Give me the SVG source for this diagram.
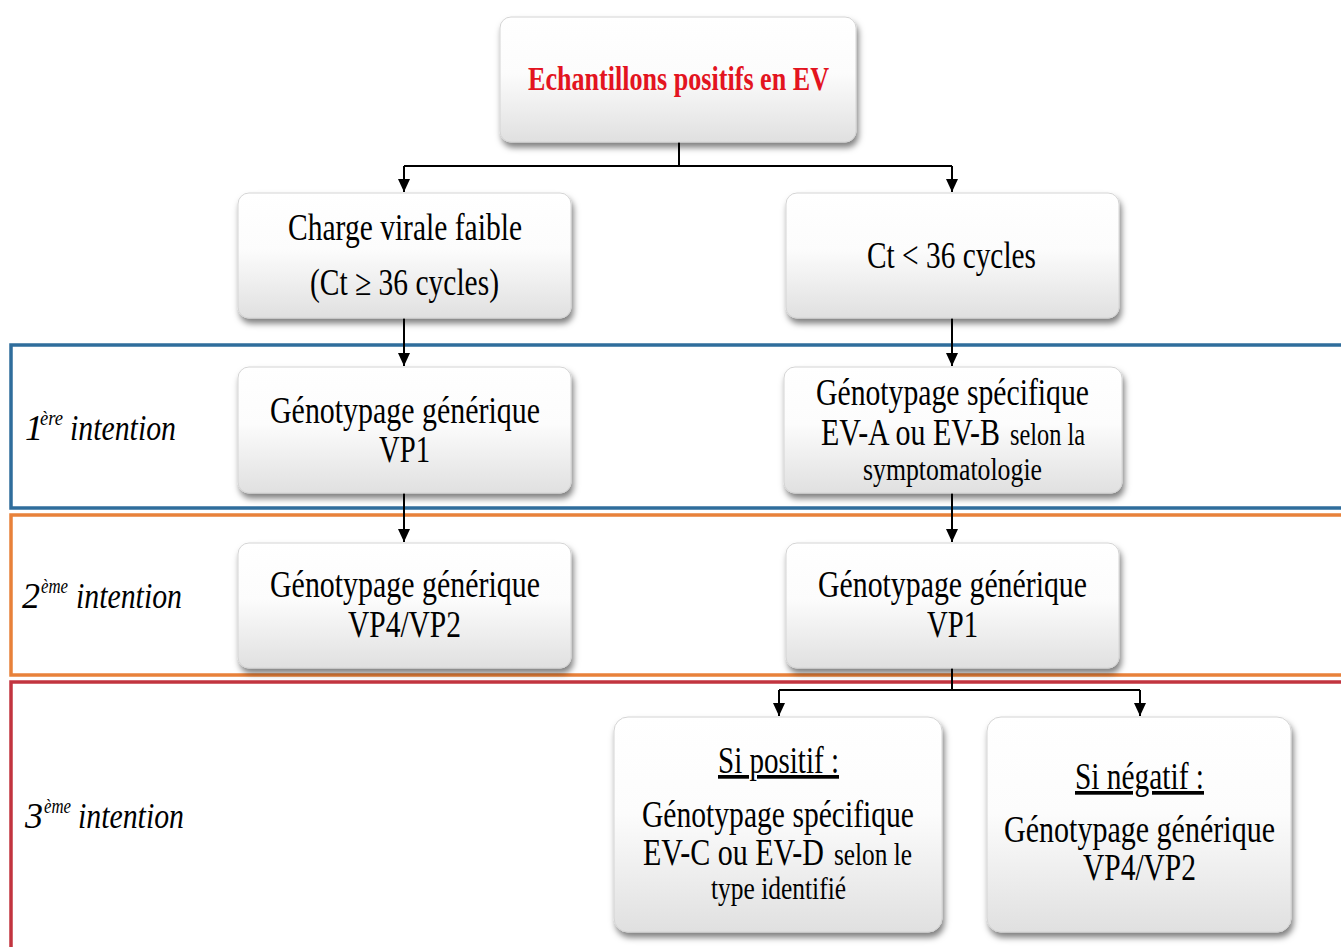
<svg xmlns="http://www.w3.org/2000/svg" width="1341" height="947" viewBox="0 0 1341 947">
<defs>
<linearGradient id="g" x1="0" y1="0" x2="0" y2="1">
<stop offset="0" stop-color="#ffffff"/>
<stop offset="0.45" stop-color="#fcfcfc"/>
<stop offset="1" stop-color="#e0e0e0"/>
</linearGradient>
<filter id="sh" x="-10%" y="-10%" width="125%" height="130%">
<feDropShadow dx="2" dy="5" stdDeviation="3" flood-color="#000" flood-opacity="0.5"/>
</filter>
<marker id="ar" markerWidth="13" markerHeight="12" refX="13" refY="6" orient="auto" markerUnits="userSpaceOnUse" viewBox="0 0 13 12">
<path d="M0,0 L13,6 L0,12 Z" fill="#000"/>
</marker>
</defs>
<style>
.box{fill:url(#g);stroke:#d4d4d4;stroke-width:1;filter:url(#sh)}
.t{font-family:"Liberation Serif","Times New Roman",serif;font-size:37px;fill:#000}
.s{font-family:"Liberation Serif","Times New Roman",serif;font-size:31px;fill:#000}
.lab{font-family:"Liberation Serif","Times New Roman",serif;font-size:36px;font-style:italic;fill:#000}
.sup{font-family:"Liberation Serif","Times New Roman",serif;font-size:20px;font-style:italic;fill:#000}
.c{fill:none;stroke:#000;stroke-width:2}
.band{fill:none;stroke-width:3.5}
</style>
<rect width="1341" height="947" fill="#ffffff"/>
<g id="bands">
<rect class="band" x="11" y="345" width="1345" height="163" stroke="#2f6d9c"/>
<rect class="band" x="11" y="515" width="1345" height="160" stroke="#e8813a"/>
<rect class="band" x="11" y="682" width="1345" height="300" stroke="#c2343f"/>
</g>
<g id="labels">
<text class="lab" x="25" y="440">1</text>
<text class="sup" x="40" y="425" textLength="23" lengthAdjust="spacingAndGlyphs">ère</text>
<text class="lab" x="70" y="440" textLength="106" lengthAdjust="spacingAndGlyphs">intention</text>
<text class="lab" x="22" y="608">2</text>
<text class="sup" x="41" y="593" textLength="27" lengthAdjust="spacingAndGlyphs">ème</text>
<text class="lab" x="76" y="608" textLength="106" lengthAdjust="spacingAndGlyphs">intention</text>
<text class="lab" x="25" y="828">3</text>
<text class="sup" x="44" y="813" textLength="27" lengthAdjust="spacingAndGlyphs">ème</text>
<text class="lab" x="78" y="828" textLength="106" lengthAdjust="spacingAndGlyphs">intention</text>
</g>
<g id="connectors">
<path class="c" d="M679,142 V166 M404,166 H952"/>
<path class="c" d="M404,166 V192" marker-end="url(#ar)"/>
<path class="c" d="M952,166 V192" marker-end="url(#ar)"/>
<path class="c" d="M404,318 V366" marker-end="url(#ar)"/>
<path class="c" d="M952,318 V366" marker-end="url(#ar)"/>
<path class="c" d="M404,493 V542" marker-end="url(#ar)"/>
<path class="c" d="M952,493 V542" marker-end="url(#ar)"/>
<path class="c" d="M952,668 V690 M779,690 H1140"/>
<path class="c" d="M779,690 V716" marker-end="url(#ar)"/>
<path class="c" d="M1140,690 V716" marker-end="url(#ar)"/>
</g>
<g id="n_top">
<rect class="box" x="500" y="17" width="356" height="125" rx="11"/>
<text x="528" y="90" textLength="301" lengthAdjust="spacingAndGlyphs" font-family="Liberation Serif, Times New Roman, serif" font-size="33" font-weight="bold" fill="#e3141f">Echantillons positifs en EV</text>
</g>
<g id="n_charge">
<rect class="box" x="238" y="193" width="333" height="125" rx="11"/>
<text class="t" x="288" y="240" textLength="234" lengthAdjust="spacingAndGlyphs">Charge virale faible</text>
<text class="t" x="310" y="295" textLength="189" lengthAdjust="spacingAndGlyphs">(Ct ≥ 36 cycles)</text>
</g>
<g id="n_ct">
<rect class="box" x="786" y="193" width="333" height="125" rx="11"/>
<text class="t" x="867" y="268" textLength="169" lengthAdjust="spacingAndGlyphs">Ct &lt; 36 cycles</text>
</g>
<g id="n_r1l">
<rect class="box" x="238" y="367" width="333" height="126" rx="11"/>
<text class="t" x="270" y="423" textLength="270" lengthAdjust="spacingAndGlyphs">Génotypage générique</text>
<text class="t" x="379" y="462" textLength="51" lengthAdjust="spacingAndGlyphs">VP1</text>
</g>
<g id="n_r1r">
<rect class="box" x="784" y="367" width="338" height="126" rx="11"/>
<text class="t" x="816" y="405" textLength="273" lengthAdjust="spacingAndGlyphs">Génotypage spécifique</text>
<text class="t" x="821" y="445" textLength="179" lengthAdjust="spacingAndGlyphs">EV-A ou EV-B</text>
<text class="s" x="1010" y="445" textLength="75" lengthAdjust="spacingAndGlyphs">selon la</text>
<text class="s" x="863" y="480" textLength="179" lengthAdjust="spacingAndGlyphs">symptomatologie</text>
</g>
<g id="n_r2l">
<rect class="box" x="238" y="543" width="333" height="125" rx="11"/>
<text class="t" x="270" y="597" textLength="270" lengthAdjust="spacingAndGlyphs">Génotypage générique</text>
<text class="t" x="348" y="637" textLength="113" lengthAdjust="spacingAndGlyphs">VP4/VP2</text>
</g>
<g id="n_r2r">
<rect class="box" x="786" y="543" width="333" height="125" rx="11"/>
<text class="t" x="818" y="597" textLength="269" lengthAdjust="spacingAndGlyphs">Génotypage générique</text>
<text class="t" x="927" y="637" textLength="51" lengthAdjust="spacingAndGlyphs">VP1</text>
</g>
<g id="n_pos">
<rect class="box" x="614" y="717" width="328" height="215" rx="14"/>
<text class="t" x="718" y="773" textLength="121" lengthAdjust="spacingAndGlyphs" text-decoration="underline">Si positif :</text>
<text class="t" x="642" y="827" textLength="272" lengthAdjust="spacingAndGlyphs">Génotypage spécifique</text>
<text class="t" x="643" y="865" textLength="181" lengthAdjust="spacingAndGlyphs">EV-C ou EV-D</text>
<text class="s" x="834" y="865" textLength="78" lengthAdjust="spacingAndGlyphs">selon le</text>
<text class="s" x="711" y="899" textLength="135" lengthAdjust="spacingAndGlyphs">type identifié</text>
</g>
<g id="n_neg">
<rect class="box" x="987" y="717" width="304" height="215" rx="14"/>
<text class="t" x="1075" y="789" textLength="129" lengthAdjust="spacingAndGlyphs" text-decoration="underline">Si négatif :</text>
<text class="t" x="1004" y="842" textLength="271" lengthAdjust="spacingAndGlyphs">Génotypage générique</text>
<text class="t" x="1083" y="880" textLength="113" lengthAdjust="spacingAndGlyphs">VP4/VP2</text>
</g>
</svg>
